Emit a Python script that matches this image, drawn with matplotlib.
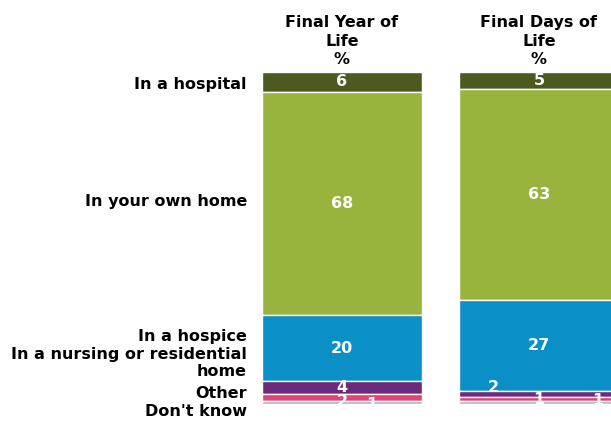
import matplotlib.pyplot as plt
from matplotlib import transforms

## Data
categories = ["In a hospital", "In your own home", "In a hospice",
              "In a nursing or residential\nhome", "Other", "Don't know"]
columns = ["Final Year of\nLife\n%", "Final Days of\nLife\n%"]
year_values = [6, 68, 20, 4, 2, 1]
days_values = [5, 63, 27, 2, 1, 1]

colors = ["#4b5a1f", "#98b43d", "#0a8fc6", "#6b2a7b", "#e0427a", "#b4b4b4"]

# Layout tweaks for the crowded small labels (dx in bar units, dy in %)
year_offsets = [(0, 0), (0, 0), (0, 0), (0, 0), (0, 1.2), (0.15, 0.6)]
days_offsets = [(0, 0), (0, 0), (0, 0), (-0.23, -1.8), (0, 0.2), (0.3, -0.4)]

# Category label y positions (pixels from top of image)
label_y_px = [85, 201, 336, 363, 393, 411]

FS = 11.5
W, H = 611, 423
fig = plt.figure(figsize=(W / 100, H / 100), dpi=100)
ax = fig.add_axes([262 / W, (H - 404) / H, (W - 262) / W, 332 / H])

bar_w = 160 / 197
for i, (vals, offs) in enumerate([(year_values, year_offsets), (days_values, days_offsets)]):
    total = sum(vals)
    bottom = 0
    for v, c, (dx, dy) in zip(vals, colors, offs):
        h = v / total * 100
        ax.bar(i, h, bottom=bottom, width=bar_w, color=c, edgecolor="white",
               linewidth=1.0)
        ax.text(i + dx, bottom + h / 2 + dy, str(v), ha="center", va="center",
                color="white", fontsize=FS, fontweight="bold")
        bottom += h

ax.set_xlim(-0.406, -0.406 + (W - 262) / 197)
ax.set_ylim(100, 0)
ax.axis("off")

# Column headers
trans = transforms.blended_transform_factory(ax.transData, fig.transFigure)
for i, col in enumerate(columns):
    ax.text(i, 1 - 41 / H, col, transform=trans, ha="center", va="center",
            fontsize=FS, fontweight="bold", linespacing=1.28)

# Category labels
for cat, ypx in zip(categories, label_y_px):
    fig.text(247 / W, 1 - ypx / H, cat, ha="right", va="center",
             fontsize=FS, fontweight="bold", linespacing=1.12)

fig.savefig("out.png", dpi=100)
